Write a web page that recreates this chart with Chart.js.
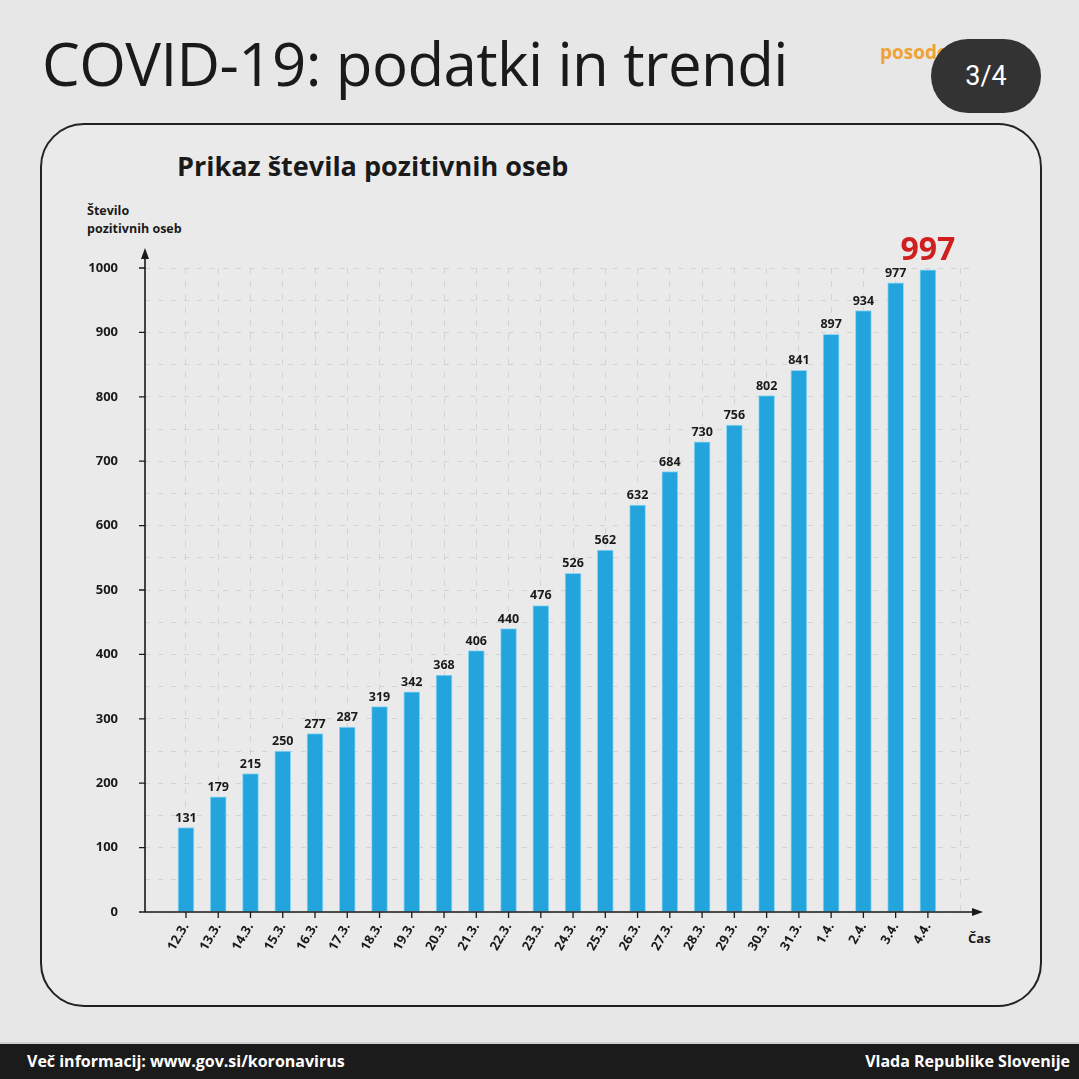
<!DOCTYPE html>
<html>
<head>
<meta charset="utf-8">
<script src="https://cdn.jsdelivr.net/npm/chart.js@4.4.1/dist/chart.umd.min.js"></script>
<style>
  html, body { margin: 0; padding: 0; }
  body { width: 1079px; height: 1079px; background: #e7e7e7; position: relative; overflow: hidden; font-family: "Open Sans", sans-serif; color: #1a1a1a; }
  #title { position: absolute; left: 42px; top: 22px; font-size: 60px; font-weight: 400; letter-spacing: -0.6px; white-space: nowrap; }
  #upd { position: absolute; left: 880px; top: 40px; font-size: 19px; font-weight: 700; color: #f0a234; line-height: 24px; white-space: nowrap; }
  #pill { position: absolute; left: 931px; top: 39px; width: 110px; height: 74px; border-radius: 37px; background: #333; color: #fff; font-family: Roboto, sans-serif; font-size: 27px; line-height: 74px; text-align: center; }
  #panel { position: absolute; left: 40px; top: 123px; width: 998px; height: 880px; border: 2px solid #222; border-radius: 44px; background: #eaeaea; }
  #ctitle { position: absolute; left: 177px; top: 147px; font-size: 27px; font-weight: 700; white-space: nowrap; }
  #ytitle { position: absolute; left: 87px; top: 202px; font-size: 12.5px; font-weight: 700; line-height: 18px; }
  #xtitle { position: absolute; left: 968px; top: 929px; font-size: 13px; font-weight: 700; }
  #foot { position: absolute; left: 0; top: 1042px; width: 1079px; height: 37px; background: #1b1b1b; border-top: 2px solid #cfcfcf; color: #fff; font-size: 16px; font-weight: 700; }
  #foot .l { position: absolute; left: 27px; top: 6px; }
  #foot .r { position: absolute; right: 9px; top: 6px; }
  #wrap { position: absolute; left: 0; top: 0; width: 1079px; height: 1079px; }
</style>
</head>
<body>
<div id="panel"></div>
<div id="title">COVID-19: podatki in trendi</div>
<div id="upd">posodobljeno<br><span style="padding-left:58px">4. 4. 2020</span></div>
<div id="pill">3/4</div>
<div id="ctitle">Prikaz števila pozitivnih oseb</div>
<div id="ytitle">Število<br>pozitivnih oseb</div>
<div id="xtitle">Čas</div>
<div id="wrap"><canvas id="chart" width="1079" height="1079"></canvas></div>
<div id="foot"><span class="l">Več informacij: www.gov.si/koronavirus</span><span class="r">Vlada Republike Slovenije</span></div>

<script>
// datumi (os x)
const dayLabels = [
  '12.3.', '13.3.', '14.3.', '15.3.', '16.3.', '17.3.', '18.3.', '19.3.', '20.3.', '21.3.',
  '22.3.', '23.3.', '24.3.', '25.3.', '26.3.', '27.3.', '28.3.', '29.3.', '30.3.', '31.3.',
  '1.4.', '2.4.', '3.4.', '4.4.'
];
// število pozitivnih oseb
const positives = [
  131, 179, 215, 250, 277, 287, 319, 342, 368, 406,
  440, 476, 526, 562, 632, 684, 730, 756, 802, 841,
  897, 934, 977, 997
];
// mreža: en stolpec več kot podatkov
const gridSlots = dayLabels.map((d, i) => i).concat([dayLabels.length]);
const yTicks = { min: 0, max: 1000, step: 50, labelEvery: 100 };

const barBlue = '#23a4dc';
const dark = '#1a1a1a';

// osi s puščicami, oznake in vrednosti nad stolpci
const axesPlugin = {
    id: 'axesPlugin',
    afterDatasetsDraw(chart) {
        const ctx = chart.ctx;
        const xs = chart.scales.x, ys = chart.scales.y;
        const x0 = xs.left, y0 = ys.getPixelForValue(0);
        const yTop = ys.getPixelForValue(yTicks.max) - 20;
        const xEnd = xs.right + 8;

        ctx.save();
        ctx.strokeStyle = dark;
        ctx.fillStyle = dark;
        ctx.lineWidth = 1.6;

        ctx.beginPath();
        ctx.moveTo(x0, y0);
        ctx.lineTo(x0, yTop + 6);
        ctx.moveTo(x0, y0);
        ctx.lineTo(xEnd - 6, y0);
        ctx.stroke();

        // puščici
        ctx.beginPath();
        ctx.moveTo(x0, yTop); ctx.lineTo(x0 - 4, yTop + 11); ctx.lineTo(x0 + 4, yTop + 11); ctx.closePath();
        ctx.fill();
        ctx.beginPath();
        ctx.moveTo(xEnd, y0); ctx.lineTo(xEnd - 11, y0 - 4); ctx.lineTo(xEnd - 11, y0 + 4); ctx.closePath();
        ctx.fill();

        // kljukice
        ctx.lineWidth = 1.3;
        ctx.beginPath();
        for (let v = yTicks.min; v <= yTicks.max; v += yTicks.labelEvery) {
            const py = ys.getPixelForValue(v);
            ctx.moveTo(x0 - 6, py); ctx.lineTo(x0, py);
        }
        dayLabels.forEach((d, i) => {
            const px = xs.getPixelForValue(i);
            ctx.moveTo(px, y0); ctx.lineTo(px, y0 + 6);
        });
        ctx.stroke();

        // vrednosti
        const meta = chart.getDatasetMeta(0);
        ctx.textAlign = 'center';
        ctx.textBaseline = 'alphabetic';
        meta.data.forEach((bar, i) => {
            const last = i === positives.length - 1;
            if (last) {
                ctx.font = '700 32px "Open Sans"';
                ctx.fillStyle = '#d11f1f';
                ctx.fillText(positives[i], bar.x, bar.y - 10);
            } else {
                ctx.font = '700 12.5px "Open Sans"';
                ctx.fillStyle = dark;
                ctx.fillText(positives[i], bar.x, bar.y - 6);
            }
        });
        ctx.restore();
    }
};

const ctx = document.getElementById('chart').getContext('2d');
new Chart(ctx, {
    type: 'bar',
    data: {
        datasets: [{
            data: positives.map((v, i) => ({ x: i, y: v })),
            backgroundColor: barBlue,
            borderColor: '#8fd6f3',
            borderWidth: 1,
            barThickness: 16
        }]
    },
    options: {
        responsive: false,
        animation: false,
        events: [],
        layout: { padding: { left: 85, right: 104, top: 268, bottom: 107 } },
        plugins: { legend: { display: false }, tooltip: { enabled: false } },
        scales: {
            x: {
                type: 'linear',
                offset: false,
                min: -1.27,
                max: 24.46,
                afterBuildTicks: (s) => { s.ticks = gridSlots.map(v => ({ value: v })); },
                afterFit: (s) => { s.height = 60; },
                ticks: {
                    autoSkip: false,
                    minRotation: 60,
                    maxRotation: 60,
                    padding: 8,
                    color: dark,
                    font: { family: 'Open Sans', size: 13, weight: '700' },
                    callback: (v) => dayLabels[v] ?? ''
                },
                grid: { offset: false, color: '#d3d3d3', lineWidth: 1, drawTicks: false },
                border: { display: false, dash: [6, 7] }
            },
            y: {
                min: yTicks.min,
                max: yTicks.max,
                afterFit: (s) => { s.width = 60; },
                ticks: {
                    stepSize: yTicks.step,
                    padding: 27,
                    color: dark,
                    font: { family: 'Open Sans', size: 13, weight: '700' },
                    callback: (v) => v % yTicks.labelEvery === 0 ? v : ''
                },
                grid: { color: '#d3d3d3', lineWidth: 1, drawTicks: false },
                border: { display: false, dash: [5, 8] }
            }
        }
    },
    plugins: [axesPlugin]
});
</script>
</body>
</html>
